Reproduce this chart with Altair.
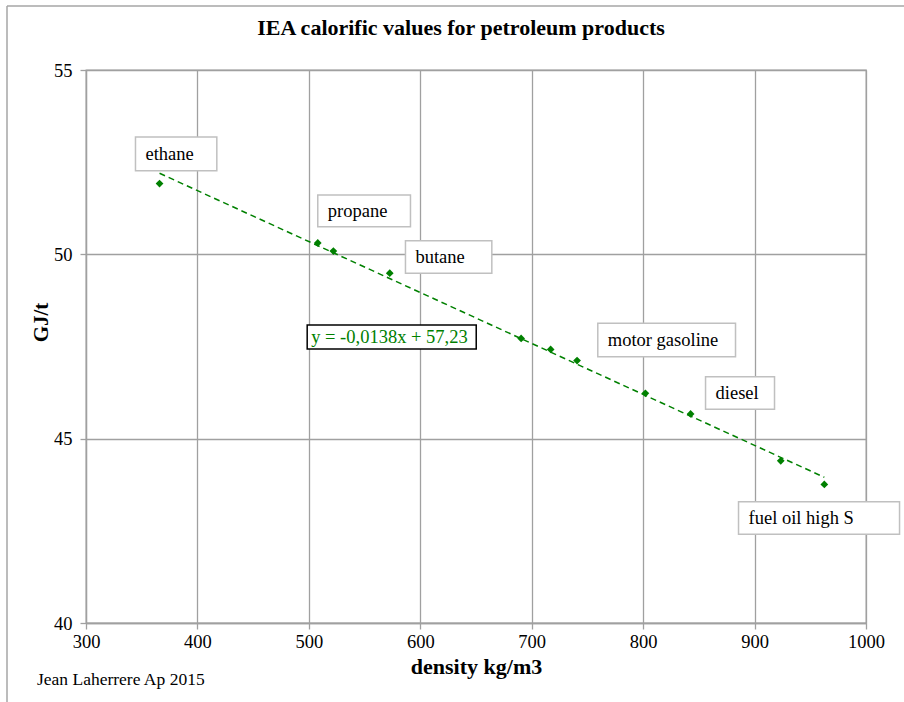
import altair as alt
import pandas as pd

# ---- data ----
density = [366, 508, 522, 572.6, 690.5, 717, 740.7, 802, 842.6, 923.5, 962.6]
gj_per_t = [51.92, 50.31, 50.09, 49.49, 47.72, 47.42, 47.12, 46.23, 45.67, 44.40, 43.76]

x_ticks = [300, 400, 500, 600, 700, 800, 900, 1000]
y_ticks = [40, 45, 50, 55]

# product labels and their boxes (in data units)
label_text = ["ethane", "propane", "butane", "motor gasoline", "diesel", "fuel oil high S"]
label_x0 = [344.4, 508.0, 586.7, 759.3, 856.0, 885.6]
label_x1 = [417.4, 591.2, 664.2, 882.9, 917.9, 1030.1]
label_top = [53.18, 51.61, 50.37, 48.13, 46.68, 43.29]
label_bottom = [52.27, 50.75, 49.49, 47.22, 45.80, 42.41]

eq_text = ["y = -0,0138x + 57,23"]
eq_x0 = [498.5]
eq_x1 = [650.2]
eq_top = [48.08]
eq_bottom = [47.43]

FONT = "'Liberation Serif', 'Times New Roman', 'DejaVu Serif', serif"
GREEN = "#008000"
GRID = "#a0a0a0"

pts = pd.DataFrame({"density": density, "gj": gj_per_t})
labels = pd.DataFrame({
    "text": label_text, "x0": label_x0, "x1": label_x1,
    "top": label_top, "bottom": label_bottom,
})
labels["ymid"] = (labels["top"] + labels["bottom"]) / 2
eq = pd.DataFrame({"text": eq_text, "x0": eq_x0, "x1": eq_x1, "top": eq_top, "bottom": eq_bottom})
eq["ymid"] = (eq["top"] + eq["bottom"]) / 2

xscale = alt.Scale(domain=[300, 1000], nice=False, zero=False)
yscale = alt.Scale(domain=[40, 55], nice=False, zero=False)

xaxis = alt.Axis(
    title="density kg/m3", values=x_ticks, format="d", grid=True, gridColor=GRID, gridWidth=1.3,
    domainColor=GRID, domainWidth=1.3, tickColor=GRID, tickWidth=1.3, tickSize=6,
    labelFont=FONT, labelFontSize=18.5, labelColor="black", labelPadding=3,
    titleFont=FONT, titleFontSize=22, titleFontWeight="bold", titleColor="black",
    titlePadding=6, labelFlush=False,
)
yaxis = alt.Axis(
    title="GJ/t", values=y_ticks, format="d", grid=True, gridColor=GRID, gridWidth=1.3,
    domainColor=GRID, domainWidth=1.3, tickColor=GRID, tickWidth=1.3, tickSize=6,
    labelFont=FONT, labelFontSize=18.5, labelColor="black", labelPadding=8,
    titleFont=FONT, titleFontSize=21, titleFontWeight="bold", titleColor="black",
    titleX=-45, titleY=252, titleAngle=270, titleAlign="center", titleBaseline="middle",
    labelFlush=False,
)

base = alt.Chart(pts)

points = base.mark_point(shape="diamond", filled=True, size=60, color=GREEN, opacity=1).encode(
    x=alt.X("density:Q", scale=xscale, axis=xaxis),
    y=alt.Y("gj:Q", scale=yscale, axis=yaxis),
)

trend = base.transform_regression("density", "gj").mark_line(
    color=GREEN, strokeDash=[6, 4], strokeWidth=1.5
).encode(
    x=alt.X("density:Q", scale=xscale),
    y=alt.Y("gj:Q", scale=yscale),
)

boxes = alt.Chart(labels).mark_rect(fill="white", stroke="#c0c0c0", strokeWidth=1.5).encode(
    x=alt.X("x0:Q", scale=xscale), x2="x1:Q",
    y=alt.Y("top:Q", scale=yscale), y2="bottom:Q",
)
box_text = alt.Chart(labels).mark_text(
    align="left", baseline="middle", dx=10, font=FONT, fontSize=18.5, color="black"
).encode(
    x=alt.X("x0:Q", scale=xscale), y=alt.Y("ymid:Q", scale=yscale), text="text:N"
)

eq_box = alt.Chart(eq).mark_rect(fill="white", stroke="black", strokeWidth=1.5).encode(
    x=alt.X("x0:Q", scale=xscale), x2="x1:Q",
    y=alt.Y("top:Q", scale=yscale), y2="bottom:Q",
)
eq_label = alt.Chart(eq).mark_text(
    align="left", baseline="middle", dx=4, font=FONT, fontSize=18.5, color=GREEN
).encode(
    x=alt.X("x0:Q", scale=xscale), y=alt.Y("ymid:Q", scale=yscale), text="text:N"
)

title = alt.Chart(pd.DataFrame({"t": ["IEA calorific values for petroleum products"]})).mark_text(
    font=FONT, fontSize=22, fontWeight="bold", color="black", align="center", baseline="middle"
).encode(x=alt.value(375), y=alt.value(-42), text="t:N")

credit = alt.Chart(pd.DataFrame({"t": ["Jean Laherrere Ap 2015"]})).mark_text(
    font=FONT, fontSize=17.5, color="black", align="left", baseline="middle"
).encode(x=alt.value(-49), y=alt.value(610), text="t:N")

frame_left = alt.Chart(pd.DataFrame({"a": [0]})).mark_rule(color="#a6a6a6", strokeWidth=1.5).encode(
    x=alt.value(-79), y=alt.value(-64), y2=alt.value(640)
)
frame_top = alt.Chart(pd.DataFrame({"a": [0]})).mark_rule(color="#a6a6a6", strokeWidth=1.5).encode(
    x=alt.value(-79), x2=alt.value(830), y=alt.value(-64)
)

chart = alt.layer(
    frame_left, frame_top, trend, points, boxes, box_text, eq_box, eq_label, title, credit
).properties(
    width=780, height=553,
    autosize=alt.AutoSizeParams(type="none"),
    padding={"left": 86, "top": 70, "right": 38, "bottom": 79},
    background="white",
).configure_view(stroke=GRID, strokeWidth=1.3)

chart.save("out.html", embed_options={"renderer": "svg", "actions": False})
